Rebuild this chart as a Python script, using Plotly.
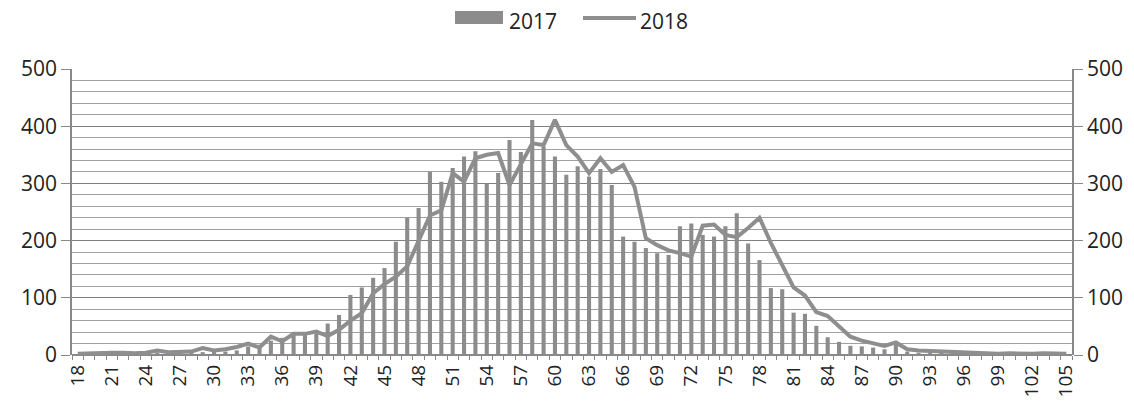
import plotly.graph_objects as go

ages = list(range(18, 106))

v2017 = [1, 2, 1, 2, 2, 2, 3, 4, 3, 3, 4, 5, 6, 6, 8,          # 18-32
         15, 18, 25, 30, 35, 35, 38, 55, 70,                    # 33-41
         105, 118, 135, 152, 198, 240, 257, 320, 303,           # 42-50
         327, 347, 356, 300, 318, 376, 355, 411, 364,           # 51-59
         347, 315, 330, 312, 325, 297, 207, 198, 187,           # 60-68
         178, 175, 225, 230, 210, 207, 225, 248, 195,           # 69-77
         166, 117, 115, 74, 72, 51, 31, 23, 16,                 # 78-86
         15, 13, 10, 20, 6, 4, 3, 3, 3, 2, 2, 2, 2,             # 87-99
         1, 1, 1, 1, 1, 1]                                      # 100-105

v2018 = [2, 3, 3, 4, 4, 3, 4, 8, 5, 6, 6, 12, 8, 10, 14,      # 18-32
         20, 13, 32, 24, 37, 37, 41, 33, 44,                    # 33-41
         60, 73, 108, 124, 137, 155, 200, 244, 253,             # 42-50
         318, 303, 344, 350, 353, 297, 335, 370, 367,           # 51-59
         411, 367, 347, 318, 344, 320, 332, 294, 204,           # 60-68
         192, 183, 178, 172, 226, 228, 210, 206, 222,           # 69-77
         240, 196, 158, 118, 104, 75, 68, 50, 32,               # 78-86
         25, 20, 16, 22, 10, 8, 7, 7, 5, 4, 3, 3, 2,            # 87-99
         3, 2, 2, 3, 2, 2]                                      # 100-105

tick_labels = [str(a) for a in range(18, 106, 3)]
series_names = ["2017", "2018"]

FONT = "Open Sans"
BAR_C = "#8c8c8c"
LINE_C = "#8e8e8e"

# page has an 8px body margin; size figure so plot area lands at x 72-1064, y 69-355
W, H = 1126, 404
ML, MR, MT, MB = 64, 62, 61, 57
OFF = 8

fig = go.Figure()
fig.add_trace(go.Bar(x=ages, y=v2017, name=series_names[0], showlegend=False,
                     marker=dict(color=BAR_C, line=dict(width=0))))
fig.add_trace(go.Scatter(x=ages, y=v2018, name=series_names[1], mode="lines",
                         showlegend=False,
                         line=dict(color=LINE_C, width=4), yaxis="y2"))

# custom legend (wide swatches as in the reference)
plot_w = W - ML - MR
plot_h = H - MT - MB
def px_x(p):
    return (p - OFF - ML) / plot_w
def px_y(p):
    return (H - MB - (p - OFF)) / plot_h

fig.add_shape(type="rect", xref="paper", yref="paper",
              x0=px_x(455), x1=px_x(503), y0=px_y(24), y1=px_y(11),
              fillcolor=BAR_C, line=dict(width=0))
fig.add_shape(type="line", xref="paper", yref="paper",
              x0=px_x(583), x1=px_x(636), y0=px_y(18), y1=px_y(18),
              line=dict(color=LINE_C, width=4))
for xpos, txt in [(508, series_names[0]), (639, series_names[1])]:
    fig.add_annotation(xref="paper", yref="paper", x=px_x(xpos), y=px_y(21),
                       text=txt, showarrow=False, xanchor="left", borderpad=0,
                       yanchor="middle", font=dict(size=21, family=FONT, color="#222222"))

fig.update_layout(
    width=W, height=H,
    margin=dict(l=ML, r=MR, t=MT, b=MB, autoexpand=False),
    paper_bgcolor="white", plot_bgcolor="white",
    bargap=0.64,
    font=dict(family=FONT, color="#222222"),
    showlegend=False,
    xaxis=dict(range=[17.5, 105.5], tickmode="array",
               tickvals=list(range(18, 106, 3)), ticktext=tick_labels,
               tickangle=-90, tickfont=dict(size=19, family=FONT),
               ticks="", showgrid=False, zeroline=False,
               showline=False, automargin=False, ticklabelstandoff=5,
               minor=dict(ticks="outside", tick0=17.5, dtick=1, ticklen=4,
                          tickcolor="#888888", showgrid=False)),
    yaxis=dict(range=[0, 500], tickvals=[0, 100, 200, 300, 400, 500],
               tickfont=dict(size=21, family=FONT), automargin=False,
               showgrid=True, gridcolor="#808080", gridwidth=1.4,
               showline=True, linecolor="#888888", linewidth=1.5,
               ticks="outside", ticklen=9, tickcolor="#888888",
               zeroline=True, zerolinecolor="#888888", zerolinewidth=1.5,
               minor=dict(dtick=20, showgrid=True, gridcolor="#a0a0a0", gridwidth=1.2)),
    yaxis2=dict(range=[0, 500], tickvals=[0, 100, 200, 300, 400, 500],
                overlaying="y", side="right", automargin=False,
                tickfont=dict(size=21, family=FONT),
                showgrid=False, zeroline=False,
                showline=True, linecolor="#888888", linewidth=1.5,
                ticks="outside", ticklen=9, tickcolor="#888888"),
)

fig.write_html("out.html")
